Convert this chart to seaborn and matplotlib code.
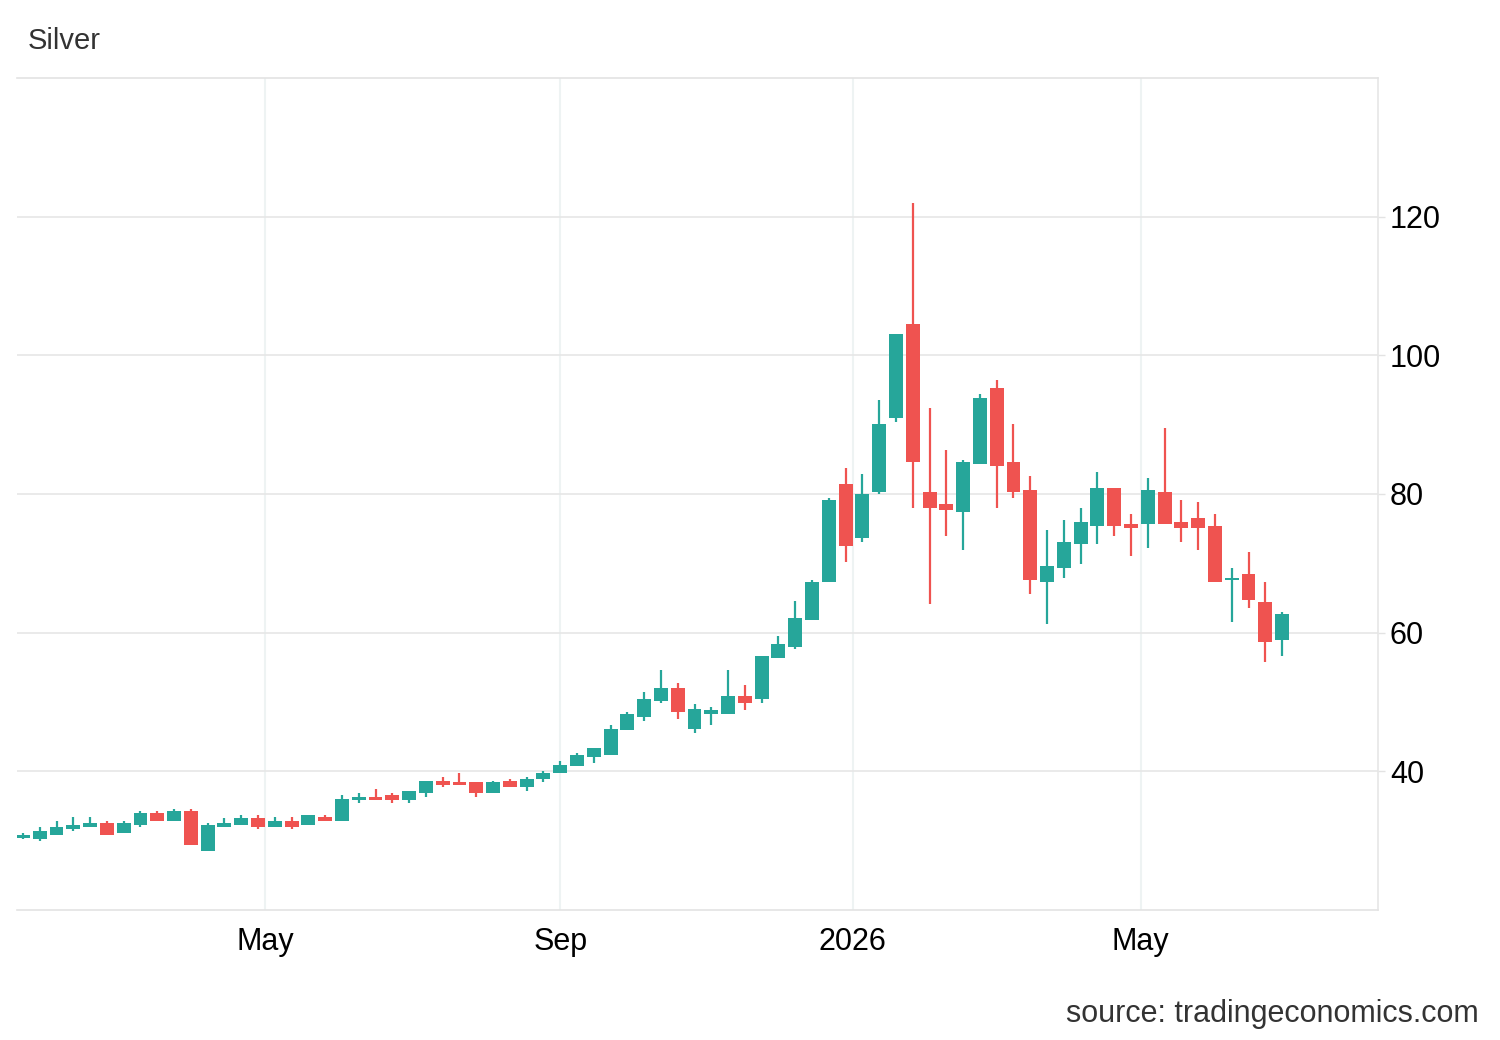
import pandas as pd
import numpy as np
import matplotlib
matplotlib.use("Agg")
import matplotlib.pyplot as plt
import matplotlib.dates as mdates
import seaborn as sns

# weekly candles, silver
opens = [30.4, 30.3, 30.85, 31.7, 32.0, 32.6, 31.15, 32.3, 34.0, 32.9,
         34.3, 28.55, 32.0, 32.3, 33.2, 32.0, 32.9, 32.3, 33.45, 32.9,
         35.8, 36.35, 36.6, 35.8, 36.9, 38.65, 38.4, 38.4, 36.9, 38.65,
         37.8, 38.95, 39.8, 40.7, 42.1, 42.4, 45.9, 47.9, 50.2, 51.95,
         46.15, 48.2, 48.2, 50.8, 50.5, 56.3, 58.0, 61.8, 67.25, 81.4,
         73.6, 80.25, 90.95, 104.55, 80.25, 78.5, 77.4, 84.3, 95.3, 84.6,
         80.55, 67.25, 69.3, 72.75, 75.35, 80.85, 75.65, 75.65, 80.3, 75.95,
         76.5, 75.35, 67.55, 68.45, 64.4, 58.9]
highs = [31.1, 32.0, 32.9, 33.45, 33.45, 32.9, 32.9, 34.3, 34.3, 34.6,
         34.6, 32.6, 33.2, 33.75, 33.75, 33.45, 33.45, 33.75, 33.75, 36.6,
         36.9, 37.5, 36.9, 37.2, 38.65, 39.25, 39.8, 38.4, 38.65, 38.95,
         39.25, 40.1, 41.55, 42.7, 43.3, 46.75, 48.5, 51.4, 54.55, 52.8,
         49.65, 49.35, 54.55, 52.5, 56.6, 59.45, 64.6, 67.55, 79.4, 83.75,
         82.85, 93.55, 103.1, 121.9, 92.4, 86.35, 84.9, 94.4, 96.45, 90.1,
         82.6, 74.8, 76.25, 77.95, 83.15, 80.85, 77.1, 82.3, 89.55, 79.1,
         78.85, 77.1, 69.3, 71.6, 67.25, 62.95]
lows = [30.3, 30.0, 30.85, 31.4, 32.0, 30.85, 31.15, 32.0, 32.9, 32.9,
        29.4, 28.55, 32.0, 32.3, 31.7, 32.0, 31.7, 32.3, 32.9, 32.9,
        35.5, 35.8, 35.5, 35.5, 36.35, 37.8, 38.1, 36.35, 36.9, 37.8,
        37.2, 38.4, 39.8, 40.7, 41.25, 42.4, 45.9, 47.3, 49.9, 47.6,
        45.6, 46.75, 48.2, 48.8, 49.9, 56.3, 57.7, 61.8, 67.25, 70.15,
        73.05, 80.0, 90.4, 77.95, 64.1, 73.9, 71.9, 84.3, 77.95, 79.4,
        65.55, 61.2, 67.85, 69.85, 72.75, 73.9, 71.05, 72.2, 75.65, 73.05,
        71.9, 67.25, 61.5, 63.5, 55.7, 56.6]
closes = [30.85, 31.4, 32.0, 32.3, 32.6, 30.85, 32.6, 34.0, 32.9, 34.3,
          29.4, 32.3, 32.6, 33.2, 32.0, 32.9, 32.0, 33.75, 32.9, 36.05,
          36.35, 35.8, 35.8, 37.2, 38.65, 38.1, 38.1, 36.9, 38.4, 37.8,
          38.95, 39.8, 40.95, 42.4, 43.3, 46.15, 48.2, 50.5, 51.95, 48.5,
          49.05, 48.8, 50.8, 49.9, 56.6, 58.3, 62.05, 67.25, 79.1, 72.45,
          80.0, 90.1, 103.1, 84.6, 77.95, 77.65, 84.6, 93.85, 84.0, 80.25,
          67.55, 69.6, 73.05, 75.95, 80.85, 75.35, 75.05, 80.55, 75.65, 75.05,
          75.05, 67.25, 67.85, 64.65, 58.6, 62.65]

weeks = pd.date_range("2025-01-20", periods=len(opens), freq="7D")
tick_dates = pd.to_datetime(["2025-05-01", "2025-09-01", "2026-01-01", "2026-05-01"])
tick_labels = ["May", "Sep", "2026", "May"]
y_ticks = [40, 60, 80, 100, 120]

UP = "#26a69a"
DOWN = "#ef5350"

sns.set_style("white")
plt.rcParams["font.family"] = ["Liberation Sans", "DejaVu Sans"]

df = pd.DataFrame({"date": weeks, "open": opens, "high": highs,
                   "low": lows, "close": closes})
df["x"] = mdates.date2num(df["date"])
df["color"] = np.where(df["close"] >= df["open"], UP, DOWN)
df["bottom"] = df[["open", "close"]].min(axis=1)
df["body"] = (df["close"] - df["open"]).abs().clip(lower=0.3)

fig = plt.figure(figsize=(15, 10.4), dpi=100)
ax = fig.add_axes([0.0113, 0.125, 0.9074, 0.80])

# wicks then bodies
ax.vlines(df["x"], df["low"], df["high"], colors=df["color"], linewidth=1.6, zorder=2)
ax.bar(df["x"], df["body"], bottom=df["bottom"], width=5.8,
       color=df["color"], linewidth=0, zorder=3)

ax.set_ylim(20, 140)
ax.set_xlim(mdates.date2num(pd.Timestamp("2025-01-17 12:00")),
            mdates.date2num(pd.Timestamp("2026-08-08")))

ax.yaxis.tick_right()
ax.set_yticks(y_ticks)
ax.set_yticklabels([str(v) for v in y_ticks])
ax.set_xticks(mdates.date2num(tick_dates))
ax.set_xticklabels(tick_labels)
ax.tick_params(axis="y", which="both", right=True, length=5, width=1,
               color="#e3e3e3", pad=3.5, labelsize=22, labelcolor="#000000")
ax.tick_params(axis="x", length=0, pad=12, labelsize=22, labelcolor="#000000")

ax.grid(axis="y", color="#e6e6e6", linewidth=1.2, zorder=0)
ax.grid(axis="x", color="#eef3f3", linewidth=1.5, zorder=0)
ax.set_axisbelow(True)

for side in ["top", "bottom"]:
    ax.spines[side].set_color("#e3e3e3")
    ax.spines[side].set_linewidth(1.2)
ax.spines["right"].set_color("#e6e6e6")
ax.spines["right"].set_linewidth(1.2)
ax.spines["left"].set_visible(False)

fig.text(0.0187, 0.961, "Silver", fontsize=21, color="#333333",
         ha="left", va="center")
fig.text(0.986, 0.025, "source: tradingeconomics.com", fontsize=22,
         color="#333333", ha="right", va="center")

fig.savefig("out.png", dpi=100)
